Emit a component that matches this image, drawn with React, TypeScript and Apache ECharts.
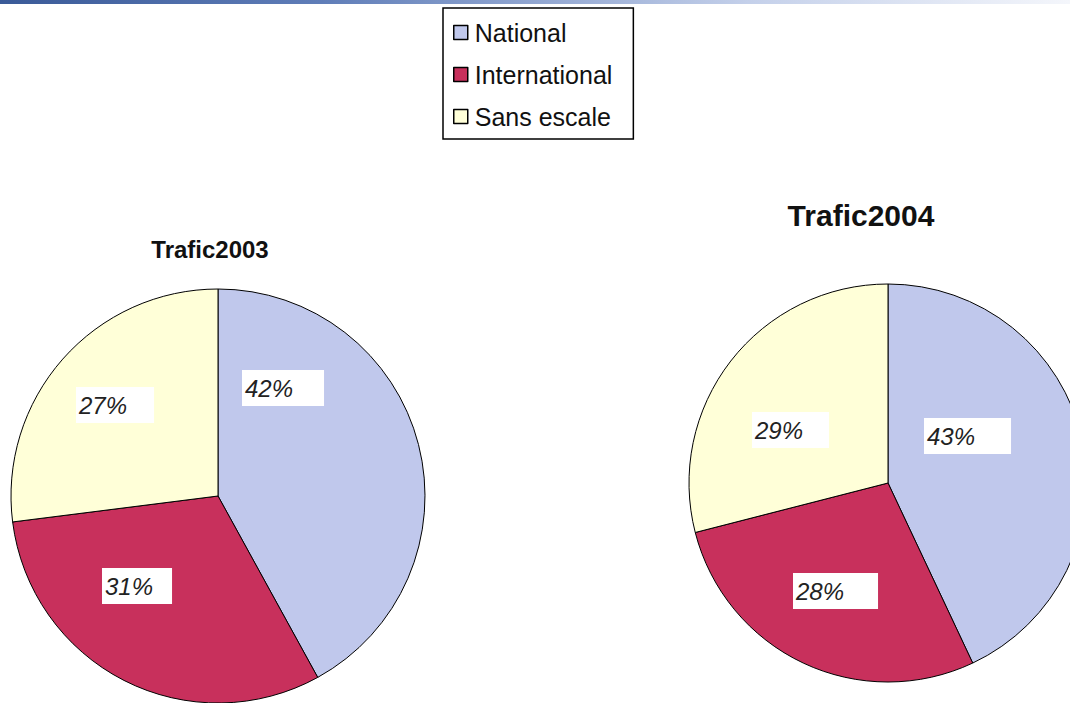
import React, { useEffect, useRef } from "react";
import * as echarts from "echarts";

const categories = ["National", "International", "Sans escale"];
const traffic2003 = [42, 31, 27];
const traffic2004 = [43, 28, 29];
const titles = ["Trafic2003", "Trafic2004"];

const COLORS = ["#c0c8ec", "#c8305c", "#ffffd8"];
const FONT = "'Liberation Sans', Arial, sans-serif";

// layout (pixels) for each pie and its manually placed labels (offset of box top-left from pie centre)
const PIES = [
  { center: [218, 496], radius: 207, labelOffsets: [[24, -126], [-116, 72], [-142, -109]], padR: [31, 19, 27] },
  { center: [888, 483], radius: 199, labelOffsets: [[36, -65], [-95, 90], [-136, -71]], padR: [36, 34, 26] },
];

export default function App() {
  const ref = useRef<HTMLDivElement>(null);
  useEffect(() => {
    if (!ref.current) return;
    const chart = echarts.init(ref.current, undefined, { renderer: "svg" });
    const datasets = [traffic2003, traffic2004];
    const series = datasets.map((vals, si) => {
      const pie = PIES[si];
      return {
        type: "pie",
        name: titles[si],
        center: pie.center,
        radius: pie.radius,
        startAngle: 90,
        clockwise: true,
        percentPrecision: 0,
        silent: true,
        itemStyle: { borderColor: "#000", borderWidth: 1 },
        labelLine: { show: false },
        emphasis: { disabled: true },
        label: {
          show: true,
          position: "inside",
          formatter: "{d}%",
          fontFamily: FONT,
          fontStyle: "italic",
          fontSize: 24,
          color: "#222",
          backgroundColor: "#fff",
        },
        labelLayout: (params: any) => {
          const off = pie.labelOffsets[params.dataIndex];
          return {
            x: pie.center[0] + off[0],
            y: pie.center[1] + off[1],
            align: "left",
            verticalAlign: "top",
          };
        },
        data: categories.map((c, i) => ({
          name: c,
          value: vals[i],
          itemStyle: { color: COLORS[i] },
          label: { padding: [6, pie.padR[i], 6, 3] },
        })),
      };
    });

    chart.setOption({
      animation: false,
      backgroundColor: "#fff",
      title: [
        {
          text: titles[0],
          left: 210,
          top: 237,
          textAlign: "center",
          padding: 0,
          textStyle: { fontFamily: FONT, fontSize: 24, fontWeight: "bold", color: "#111" },
        },
        {
          text: titles[1],
          left: 861,
          top: 200,
          textAlign: "center",
          padding: 0,
          textStyle: { fontFamily: FONT, fontSize: 30, fontWeight: "bold", color: "#111" },
        },
      ],
      legend: {
        data: categories,
        orient: "vertical",
        left: 443,
        top: 8,
        padding: [12, 21, 10, 10],
        itemGap: 17,
        itemWidth: 14,
        itemHeight: 14,
        icon: "rect",
        selectedMode: false,
        borderColor: "#000",
        borderWidth: 1.5,
        backgroundColor: "#fff",
        itemStyle: { borderColor: "#000", borderWidth: 1.5 },
        textStyle: { fontFamily: FONT, fontSize: 25, color: "#111", padding: [0, 0, 0, 2] },
      },
      graphic: [
        {
          type: "rect",
          shape: { x: 0, y: 0, width: 1070, height: 4 },
          style: {
            fill: new echarts.graphic.LinearGradient(0, 0, 1, 0, [
              { offset: 0, color: "#3a5a98" },
              { offset: 0.3, color: "#5f7db8" },
              { offset: 0.7, color: "#c4d0ea" },
              { offset: 1, color: "#f4f6fb" },
            ]),
          },
          silent: true,
        },
      ],
      series,
    });
    return () => chart.dispose();
  }, []);
  return (
    <div
      ref={ref}
      style={{ position: "absolute", left: 0, top: 0, width: 1070, height: 703, background: "#fff" }}
    />
  );
}
